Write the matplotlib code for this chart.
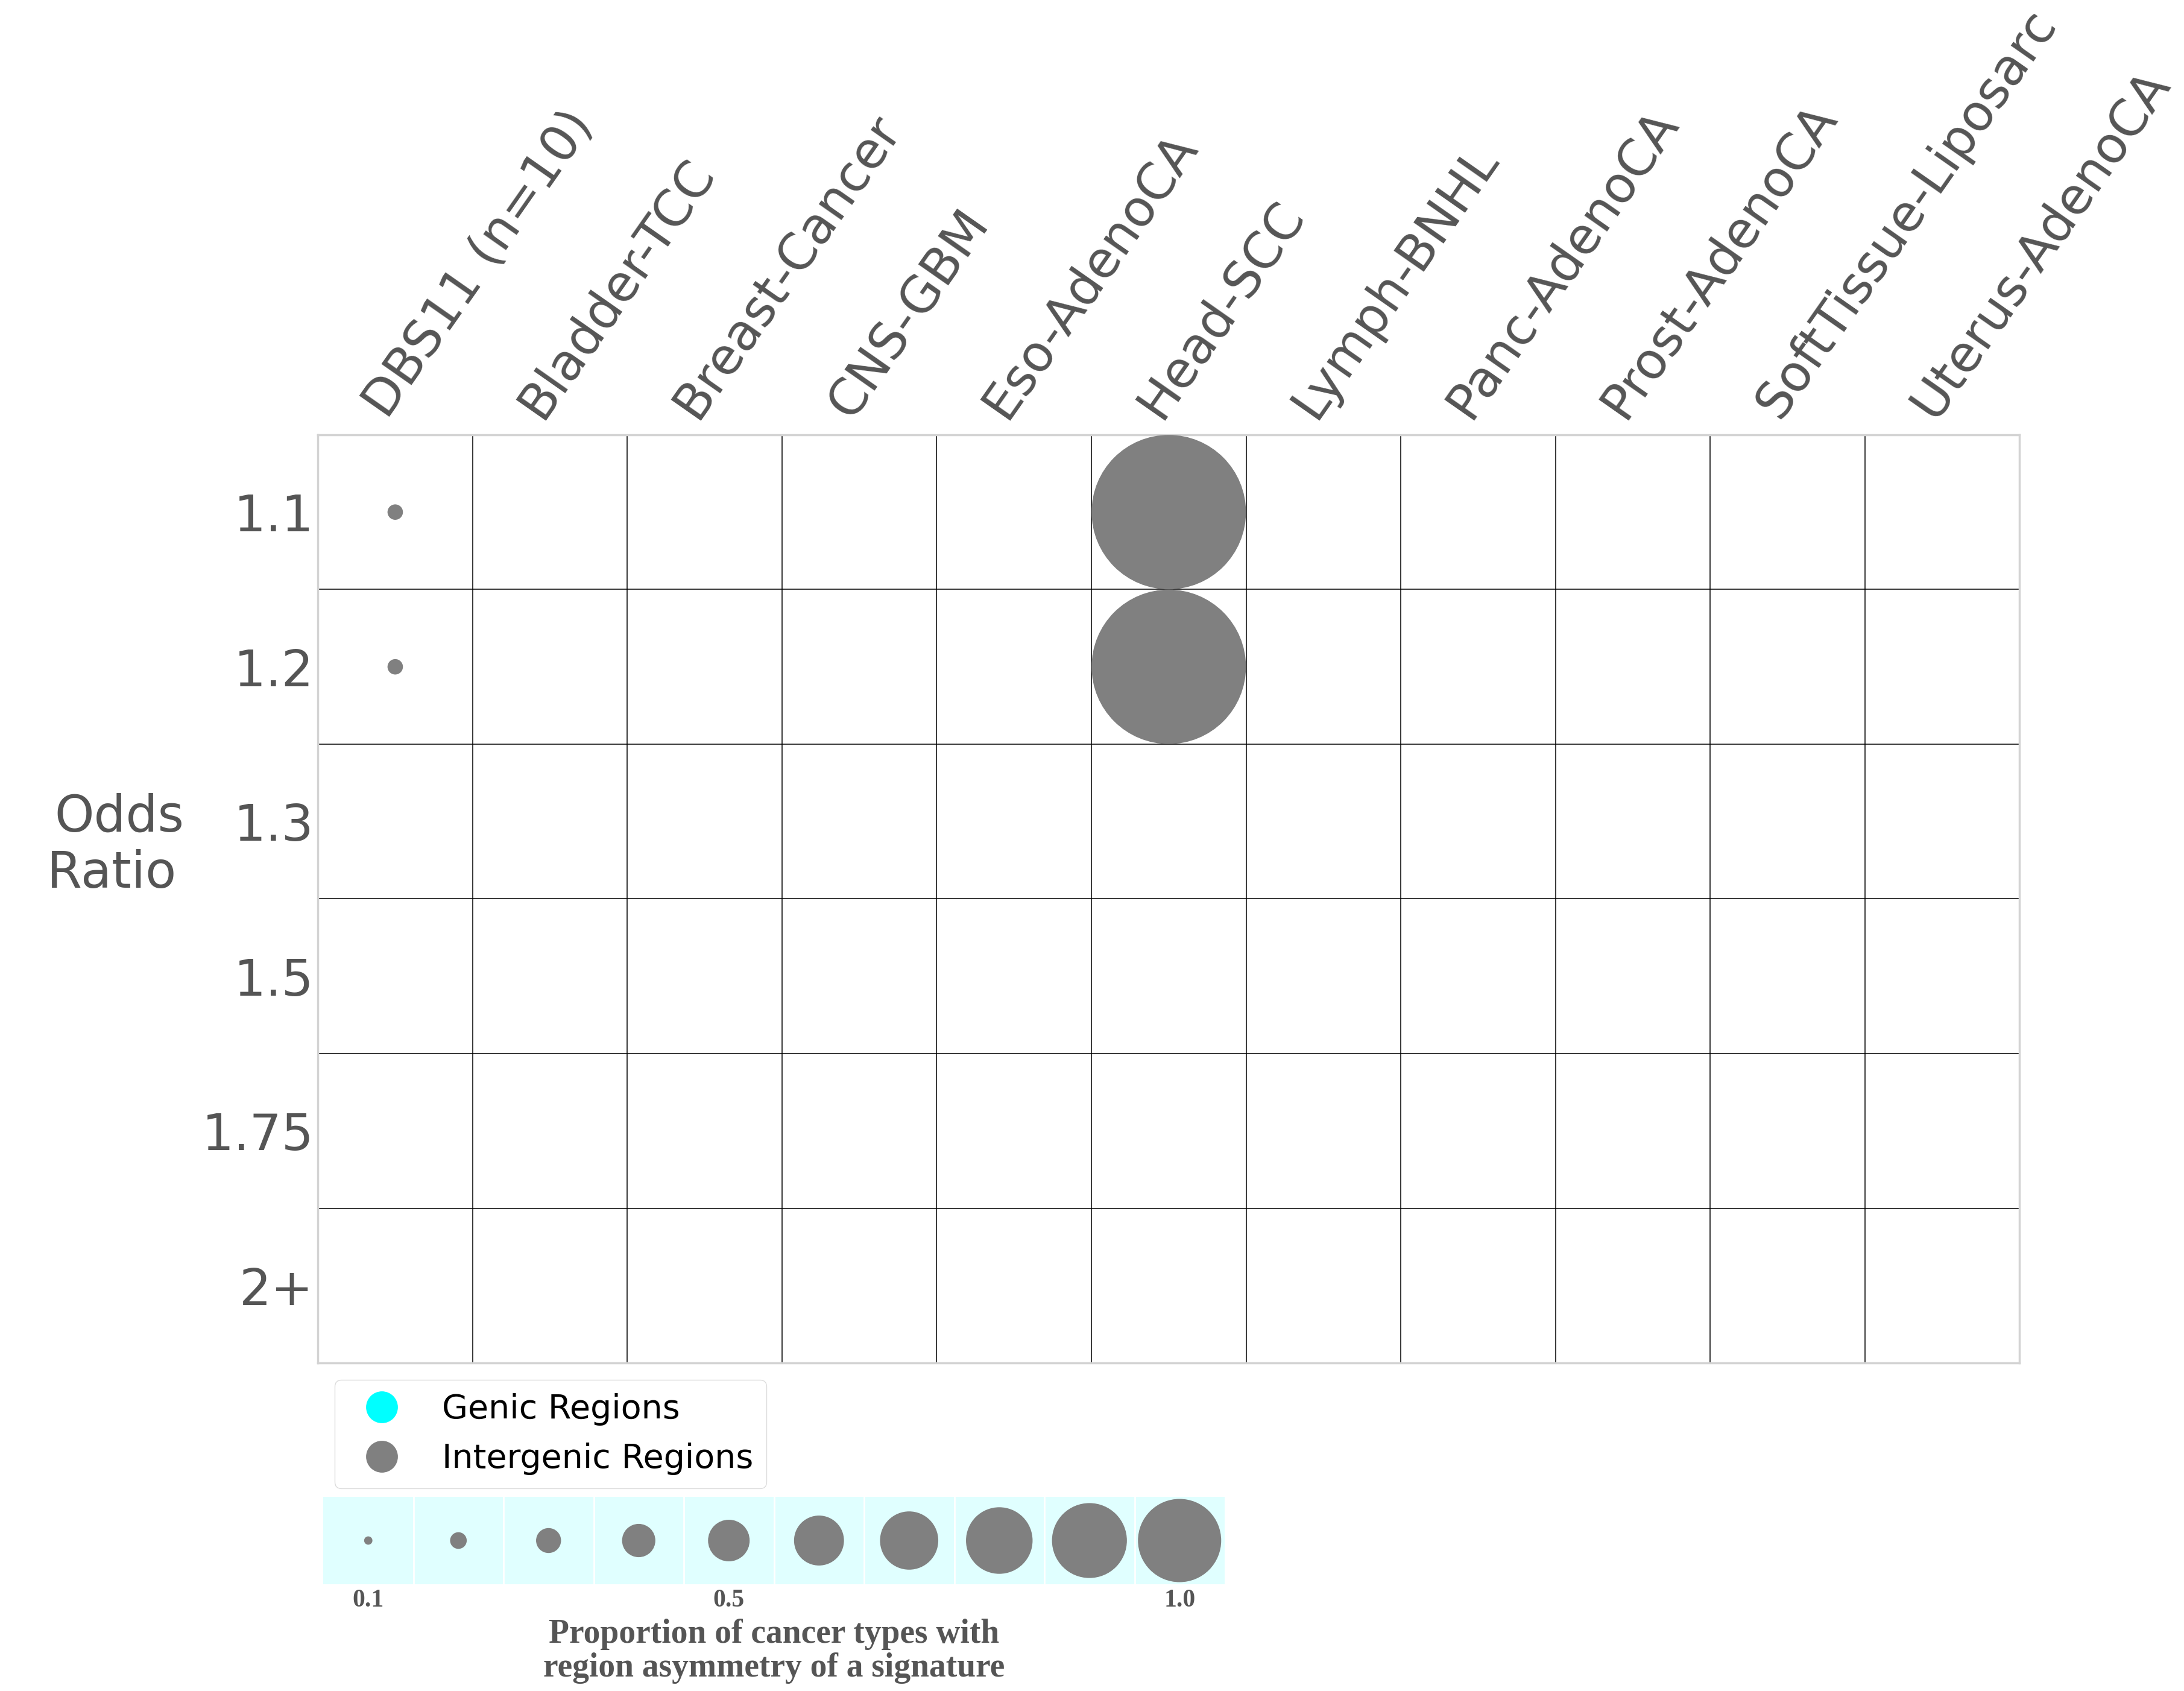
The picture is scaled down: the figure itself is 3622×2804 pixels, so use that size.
import matplotlib
matplotlib.use('Agg')
import matplotlib.pyplot as plt
from matplotlib.lines import Line2D
import numpy as np

# odds ratio heatmap of region asymmetry (genic vs intergenic)

cancer_types = ['DBS11 (n=10)', 'Bladder-TCC', 'Breast-Cancer', 'CNS-GBM', 'Eso-AdenoCA',
                'Head-SCC', 'Lymph-BNHL', 'Panc-AdenoCA', 'Prost-AdenoCA',
                'SoftTissue-Liposarc', 'Uterus-AdenoCA']
odds_ratios = ['1.1', '1.2', '1.3', '1.5', '1.75', '2+']

# rows = odds ratio thresholds, columns = cancer types
intergenic = [
    [0.1, 0, 0, 0, 0, 1.0, 0, 0, 0, 0, 0],
    [0.1, 0, 0, 0, 0, 1.0, 0, 0, 0, 0, 0],
    [0, 0, 0, 0, 0, 0, 0, 0, 0, 0, 0],
    [0, 0, 0, 0, 0, 0, 0, 0, 0, 0, 0],
    [0, 0, 0, 0, 0, 0, 0, 0, 0, 0, 0],
    [0, 0, 0, 0, 0, 0, 0, 0, 0, 0, 0],
]
genic = [[0] * 11 for _ in range(6)]

legend_values = [0.1, 0.2, 0.3, 0.4, 0.5, 0.6, 0.7, 0.8, 0.9, 1.0]
legend_labels = ['0.1', '', '', '', '0.5', '', '', '', '', '1.0']

text_gray = '#555555'
genic_color = 'cyan'
intergenic_color = 'gray'

fig = plt.figure(figsize=(36.23, 28.04), dpi=100)

ax = fig.add_axes([0.1455, 0.194, 0.779, 0.5489])
ax.set_xlim(0, len(cancer_types))
ax.set_ylim(len(odds_ratios), 0)

# marker diameter in points for a value of 1.0 (one full cell)
cell_pt = 256 * 72 / 100
for r in range(len(odds_ratios)):
    for c in range(len(cancer_types)):
        for mat, col in ((genic, genic_color), (intergenic, intergenic_color)):
            v = mat[r][c]
            if v > 0:
                ax.scatter(c + 0.5, r + 0.5, s=(v * cell_pt) ** 2, color=col,
                           edgecolors='none', zorder=3)

ax.set_xticks(np.arange(len(cancer_types)) + 0.5)
ax.set_xticklabels(cancer_types, rotation=55, ha='left', va='bottom',
                   rotation_mode='anchor', fontsize=60, color=text_gray)
ax.xaxis.tick_top()
ax.set_yticks(np.arange(len(odds_ratios)) + 0.5)
ax.set_yticklabels(odds_ratios, fontsize=60, color=text_gray)
ax.tick_params(axis='both', which='major', length=0)
ax.tick_params(axis='x', pad=10)
ax.tick_params(axis='y', pad=5)

ax.set_xticks(np.arange(1, len(cancer_types)), minor=True)
ax.set_yticks(np.arange(1, len(odds_ratios)), minor=True)
ax.tick_params(which='minor', length=0)
ax.grid(which='minor', color='black', linewidth=1.1)
ax.grid(which='major', visible=False)
ax.set_axisbelow(True)
for sp in ax.spines.values():
    sp.set_color('lightgray')
    sp.set_linewidth(2.5)

fig.text(0.0546, 0.5, 'Odds\nRatio ', ha='center', va='center', fontsize=60,
         color=text_gray, linespacing=1.2)

# colour legend
handles = [Line2D([], [], marker='o', linestyle='none', markersize=38,
                  markerfacecolor=genic_color, markeredgecolor='none', label='Genic Regions'),
           Line2D([], [], marker='o', linestyle='none', markersize=38,
                  markerfacecolor=intergenic_color, markeredgecolor='none', label='Intergenic Regions')]
fig.legend(handles=handles, loc='upper left', bbox_to_anchor=(555 / 3623, 1 - 2288 / 2804),
           fontsize=40, frameon=True, edgecolor='lightgray', handletextpad=0.8,
           labelspacing=0.5, borderpad=0.4, handlelength=2.0, borderaxespad=0)

# size legend
lax = fig.add_axes([536 / 3623, 1 - 2627 / 2804, 1495 / 3623, 145 / 2804])
lax.set_xlim(0, len(legend_values))
lax.set_ylim(0, 1)
lax.set_facecolor('lightcyan')
leg_pt = 138 * 72 / 100
for i, v in enumerate(legend_values):
    lax.scatter(i + 0.5, 0.5, s=(v * leg_pt) ** 2, color=intergenic_color,
                edgecolors='none', zorder=3)
lax.set_xticks(np.arange(len(legend_values)) + 0.5)
lax.set_xticklabels(legend_labels, fontsize=30, fontweight='bold',
                    family='Liberation Serif', color=text_gray)
lax.set_yticks([])
lax.set_xticks(np.arange(1, len(legend_values)), minor=True)
lax.grid(which='minor', axis='x', color='white', linewidth=2)
lax.tick_params(which='both', length=0, pad=6)
for sp in lax.spines.values():
    sp.set_visible(False)
lax.set_xlabel('Proportion of cancer types with\nregion asymmetry of a signature',
               fontsize=40, fontweight='bold', family='Liberation Serif',
               color=text_gray, linespacing=1.1, labelpad=8)

fig.savefig('out.png', dpi=100, facecolor='white')
